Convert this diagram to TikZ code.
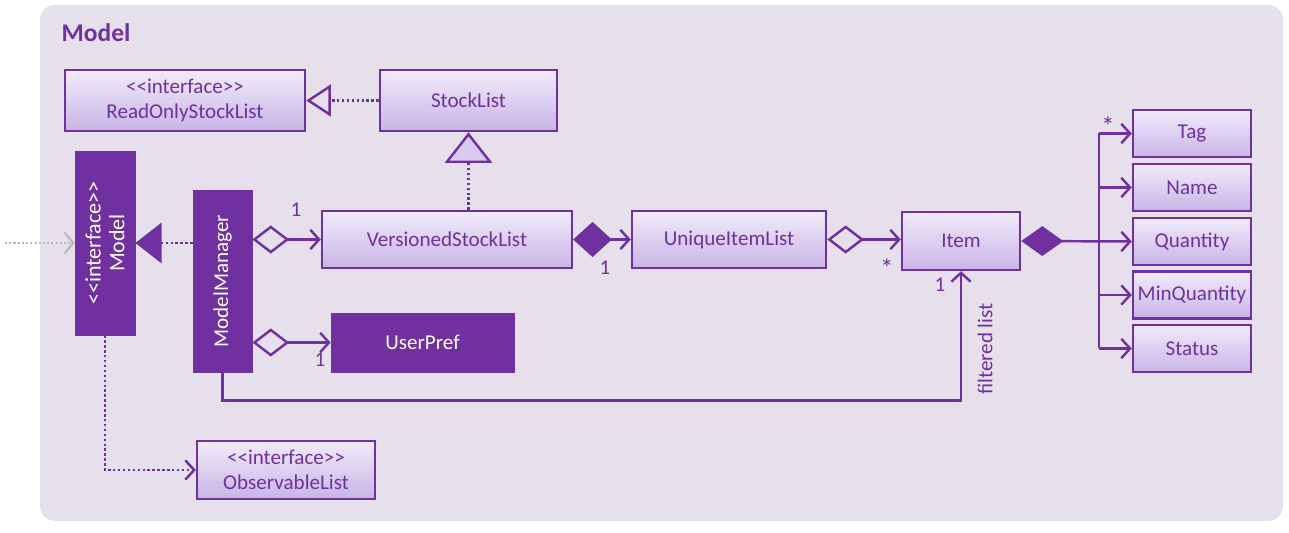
\documentclass[tikz,border=0pt]{standalone}
\usepackage{fontspec}
\setmainfont{Carlito}
\usetikzlibrary{arrows.meta}
\definecolor{umlpurple}{RGB}{112,48,160}
\definecolor{umltop}{RGB}{241,235,250}
\definecolor{umlbottom}{RGB}{200,180,231}
\definecolor{umlback}{RGB}{230,224,236}
\newcommand{\stereo}[1]{<{}<#1>{}>}
\begin{document}
\begin{tikzpicture}[x=0.02cm, y=-0.02cm]
\tikzstyle{every node} = [font=\fontsize{12}{14.5}\selectfont, text=umlpurple, inner sep=1pt]
\tikzstyle{umlbox} = [rectangle, draw=umlpurple, line width=1.4pt, top color=umltop, bottom color=umlbottom, align=center]
\tikzstyle{umldark} = [rectangle, draw=umlpurple, fill=umlpurple, text=white, align=center]
\tikzstyle{line} = [draw=umlpurple, line width=1.4pt]
\tikzstyle{dots} = [line, dash pattern=on 1.4pt off 1.4pt]
\tikzstyle{assoc} = [line, -{Straight Barb[length=5pt, width=11pt]}]
\tikzstyle{aggr} = [line, {Diamond[open, length=21pt, width=16pt]}-{Straight Barb[length=5pt, width=11pt]}]
\tikzstyle{compose} = [line, {Diamond[length=22pt, width=20pt]}-{Straight Barb[length=5pt, width=11pt]}]
\useasboundingbox (0,0) rectangle (1289,533);
\fill[umlback, rounded corners=0.3cm] (40,5) rectangle (1283,521);
\node[font=\fontsize{14.5}{17}\selectfont\bfseries] (title) at (96,33) {Model};
\node[umlbox, minimum width=4.8cm, minimum height=1.22cm] (rosl) at (185,100.5) {\stereo{interface}\\ReadOnlyStockList};
\node[umlbox, minimum width=3.54cm, minimum height=1.22cm] (stock) at (468.5,100.5) {StockList};
\node[umldark, rotate=90, minimum width=3.68cm, minimum height=1.2cm, font=\fontsize{12.5}{13.5}\selectfont] (model) at (105,243) {\stereo{interface}\\Model};
\node[umldark, rotate=90, minimum width=3.64cm, minimum height=1.18cm] (mgr) at (222.5,281) {ModelManager};
\node[umlbox, minimum width=5cm, minimum height=1.14cm] (vsl) at (447,239.5) {VersionedStockList};
\node[umlbox, minimum width=3.88cm, minimum height=1.14cm] (uil) at (729,239.5) {UniqueItemList};
\node[umlbox, minimum width=2.36cm, minimum height=1.16cm] (item) at (961,241) {Item};
\node[umldark, minimum width=3.66cm, minimum height=1.18cm] (pref) at (422.5,342.5) {UserPref};
\node[umlbox, minimum width=3.56cm, minimum height=1.16cm] (obs) at (286,470) {\stereo{interface}\\ObservableList};
\foreach \name/\y/\txt in {tag/133.5/Tag, name/187.5/Name, qty/241.5/Quantity, minq/295/MinQuantity, status/348.5/Status}
\node[umlbox, minimum width=2.36cm, minimum height=0.94cm] (\name) at (1192,\y) {\txt};
% realisation and interface arrows
\draw[dots, -{Triangle[open, length=14pt, width=18pt]}] (stock) -- (rosl);
\draw[dots, -{Triangle[fill=umltop!40!umlbottom, length=17.5pt, width=27pt]}] (stock.south |- vsl.north) -- (stock.south);
\draw[dots, -{Triangle[length=15pt, width=23pt]}] (mgr.north |- model.south) -- (model.south);
\coordinate (outside) at (5,243);
\draw[draw=gray!55, line width=1.2pt, dash pattern=on 1.2pt off 1.2pt, -{Straight Barb[length=5pt, width=12pt]}] (outside) -- (model.north);
\draw[dots, -{Straight Barb[length=5pt, width=11pt]}] (model.west) |- (obs.west);
% associations
\draw[aggr] (mgr.south |- vsl.west) -- (vsl.west);
\draw[aggr] (mgr.south |- pref.west) -- (pref.west);
\draw[compose] (vsl.east) -- (uil.west);
\draw[aggr] (uil.east) -- (item.west |- uil.east);
\draw[compose, {Diamond[length=24pt, width=17pt]}-{Straight Barb[length=5pt, width=11pt]}] (item.east) -- (qty.west);
\coordinate (bus) at (1099,241);
\draw[line] (bus |- tag) -- (bus |- status);
\foreach \a in {tag, name, minq, status}
\draw[assoc] (bus |- \a) -- (\a.west);
\draw[assoc] (mgr.west) -- ++(0,28) -| (item.south);
% multiplicities
\node (m1) at (296,210) {1};
\node (m2) at (320,360) {1};
\node (m3) at (605,268) {1};
\node[font=\fontsize{15}{15}\selectfont] (m4) at (887,268) {*};
\node (m5) at (940,285) {1};
\node[font=\fontsize{15}{15}\selectfont] (m6) at (1108,126) {*};
\node[rotate=90] (filtered) at (985,349) {filtered list};
\end{tikzpicture}
\end{document}
